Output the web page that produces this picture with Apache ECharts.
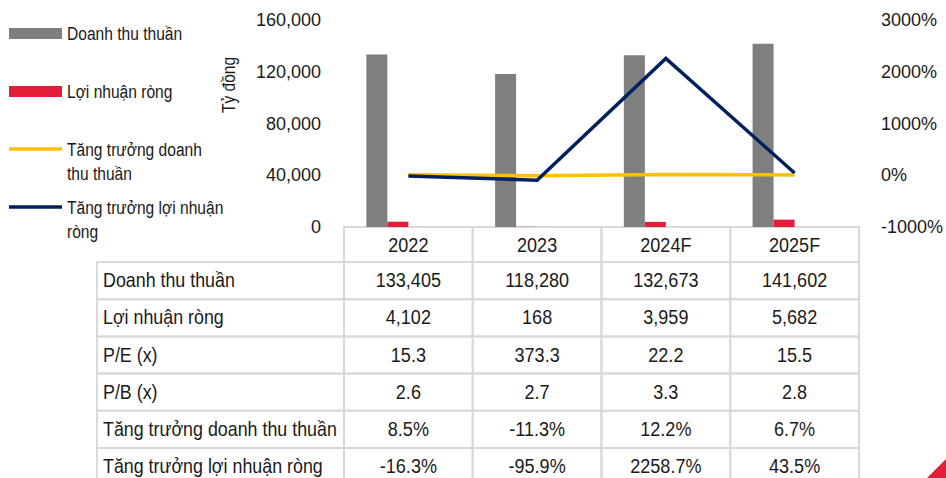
<!DOCTYPE html>
<html>
<head>
<meta charset="utf-8">
<script src="https://cdn.jsdelivr.net/npm/echarts@6/dist/echarts.min.js"></script>
<style>
  html, body { margin: 0; padding: 0; background: #fff; }
  #chart { width: 946px; height: 478px; }
</style>
</head>
<body>
<div id="chart"></div>
<script>
// data
var years = ['2022', '2023', '2024F', '2025F'];
var revenue = [133405, 118280, 132673, 141602];
var netProfit = [4102, 168, 3959, 5682];
var peRatio = [15.3, 373.3, 22.2, 15.5];
var pbRatio = [2.6, 2.7, 3.3, 2.8];
var revenueGrowth = [8.5, -11.3, 12.2, 6.7];
var profitGrowth = [-16.3, -95.9, 2258.7, 43.5];

var leftAxis = { min: 0, max: 160000, interval: 40000 };
var rightAxis = { min: -1000, max: 3000, interval: 1000 };

var names = ['Doanh thu thuần', 'Lợi nhuận ròng', 'Tăng trưởng doanh thu thuần', 'Tăng trưởng lợi nhuận ròng'];
var legendLines = [['Doanh thu thuần'], ['Lợi nhuận ròng'], ['Tăng trưởng doanh', 'thu thuần'], ['Tăng trưởng lợi nhuận', 'ròng']];
var colors = ['#7f7f7f', '#e41e3a', '#ffc000', '#002060'];

var FONT = '"Liberation Sans", Arial, sans-serif';
var TXT = '#1a1a1a';

function fmtInt(v) { return v.toLocaleString('en-US'); }
function fmt1(v) { return v.toFixed(1); }
function fmtPct(v) { return v.toFixed(1) + '%'; }

var tableRows = [
  { label: names[0], values: revenue, fmt: fmtInt },
  { label: names[1], values: netProfit, fmt: fmtInt },
  { label: 'P/E (x)', values: peRatio, fmt: fmt1 },
  { label: 'P/B (x)', values: pbRatio, fmt: fmt1 },
  { label: names[2], values: revenueGrowth, fmt: fmtPct },
  { label: names[3], values: profitGrowth, fmt: fmtPct }
];

var chartDom = document.getElementById('chart');
var myChart = echarts.init(chartDom, null, { renderer: 'svg' });
var option;

option = {
  animation: false,
  textStyle: { fontFamily: FONT },
  grid: { left: 344, right: 80, top: 20, bottom: 251, containLabel: false },
  xAxis: {
    type: 'category',
    data: years,
    axisLine: { show: false },
    axisTick: { show: false },
    axisLabel: { show: false }
  },
  yAxis: [
    {
      type: 'value',
      min: leftAxis.min, max: leftAxis.max, interval: leftAxis.interval,
      splitLine: { show: false },
      axisLine: { show: false },
      axisTick: { show: false },
      axisLabel: {
        margin: 23, fontSize: 18, color: TXT, fontFamily: FONT,
        formatter: function (v) { return fmtInt(v); }
      }
    },
    {
      type: 'value',
      min: rightAxis.min, max: rightAxis.max, interval: rightAxis.interval,
      splitLine: { show: false },
      axisLine: { show: false },
      axisTick: { show: false },
      axisLabel: {
        margin: 22, fontSize: 18, color: TXT, fontFamily: FONT,
        formatter: function (v) { return v + '%'; }
      }
    }
  ],
  series: [
    { name: names[0], type: 'bar', data: revenue, barWidth: 21, barGap: '0%', itemStyle: { color: colors[0] } },
    { name: names[1], type: 'bar', data: netProfit, barWidth: 21, barGap: '0%', itemStyle: { color: colors[1] } },
    // empty slots so the pair sits left of the category centre, as in the original
    { name: 'pad1', type: 'bar', data: years.map(function () { return '-'; }), barWidth: 21, barGap: '0%' },
    { name: 'pad2', type: 'bar', data: years.map(function () { return '-'; }), barWidth: 21, barGap: '0%' },
    { name: names[2], type: 'line', yAxisIndex: 1, data: revenueGrowth, showSymbol: false, symbol: 'none',
      lineStyle: { color: colors[2], width: 3.5 }, z: 3 },
    { name: names[3], type: 'line', yAxisIndex: 1, data: profitGrowth, showSymbol: false, symbol: 'none',
      lineStyle: { color: colors[3], width: 3.5, join: 'miter' }, z: 4 }
  ]
};

myChart.setOption(option);

// legend, axis name and data table drawn as graphics
var g = [];

function txt(x, y, s, size, align, sx) {
  return { type: 'text', x: x, y: y, scaleX: sx,
    style: { text: s, fill: TXT, font: size + 'px ' + FONT, align: align, verticalAlign: 'middle' } };
}

legendLines.forEach(function (lines, i) {
  var cy = [33, 91, 149, 207][i];
  if (i < 2) {
    g.push({ type: 'rect', shape: { x: 9, y: cy - 5, width: 53, height: 11 }, style: { fill: colors[i] } });
  } else {
    g.push({ type: 'line', shape: { x1: 9, y1: cy, x2: 62, y2: cy }, style: { stroke: colors[i], lineWidth: 3.5 } });
  }
  lines.forEach(function (t, k) {
    g.push(txt(67, cy + k * 24, t, 19, 'left', 0.82));
  });
});

var yName = txt(228, 85, 'Tỷ đồng', 19, 'center', 0.82);
yName.rotation = Math.PI / 2;
g.push(yName);

var centers = years.map(function (y, i) { return myChart.convertToPixel({ xAxisIndex: 0 }, i); });
var band = centers[1] - centers[0];
var tableTop = myChart.convertToPixel({ yAxisIndex: 0 }, 0);
var headH = 35, rowH = 37.2, labelLeft = 97;
var border = { fill: 'none', stroke: '#d9d9d9', lineWidth: 2 };

centers.forEach(function (cx, c) {
  g.push({ type: 'rect', shape: { x: cx - band / 2, y: tableTop, width: band, height: headH }, style: border });
  g.push(txt(cx, tableTop + headH / 2, years[c], 21, 'center', 0.86));
});

tableRows.forEach(function (row, r) {
  var y0 = tableTop + headH + r * rowH;
  var x0 = centers[0] - band / 2;
  g.push({ type: 'rect', shape: { x: labelLeft, y: y0, width: x0 - labelLeft, height: rowH }, style: border });
  g.push(txt(labelLeft + 6, y0 + rowH / 2 - 1, row.label, 21, 'left', 0.85));
  centers.forEach(function (cx, c) {
    g.push({ type: 'rect', shape: { x: cx - band / 2, y: y0, width: band, height: rowH }, style: border });
    g.push(txt(cx, y0 + rowH / 2 - 1, row.fmt(row.values[c]), 21, 'center', 0.86));
  });
});

// red corner mark
g.push({ type: 'polygon', shape: { points: [[927, 478], [946, 478], [946, 459]] }, style: { fill: '#e41e3a' } });

myChart.setOption({ graphic: g });
</script>
</body>
</html>
